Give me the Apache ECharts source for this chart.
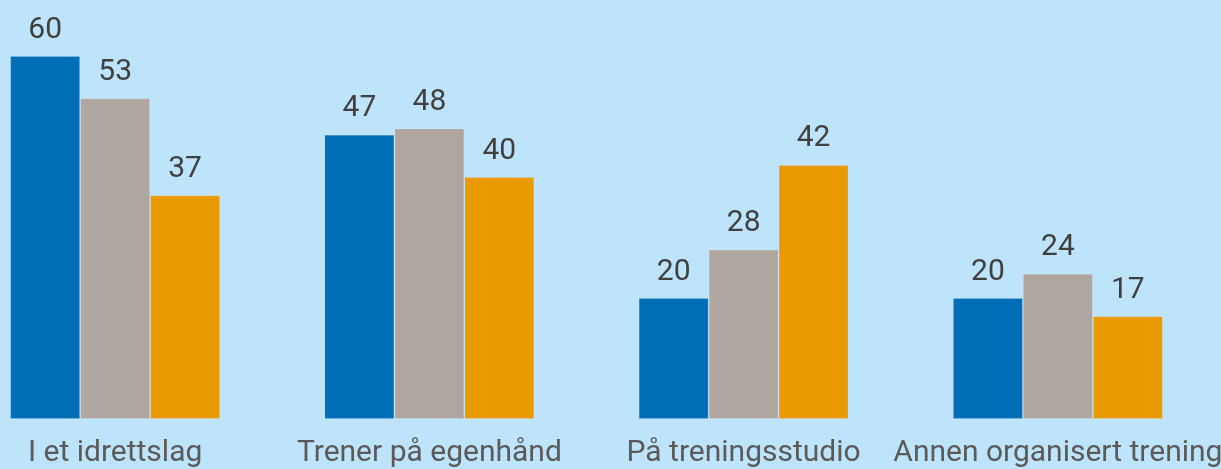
<!DOCTYPE html>
<html>
<head>
<meta charset="utf-8">
<script src="https://cdn.jsdelivr.net/npm/echarts@6/dist/echarts.min.js"></script>
<style>
  html, body { margin: 0; padding: 0; background: #bee4fc; }
  #chart { width: 1221px; height: 469px; }
</style>
</head>
<body>
<div id="chart"></div>
<script>
// Where people train, share per group (%)
const categories = ['I et idrettslag', 'Trener på egenhånd', 'På treningsstudio', 'Annen organisert trening'];
const seriesA = [60, 47, 20, 20];
const seriesB = [53, 48, 28, 24];
const seriesC = [37, 40, 42, 17];

const colors = ['#006eb6', '#aea69f', '#e89a00'];
const valueSets = [seriesA, seriesB, seriesC];

const chart = echarts.init(document.getElementById('chart'), null, { renderer: 'canvas' });

chart.setOption({
  backgroundColor: '#bee4fc',
  animation: false,
  grid: { left: -42, right: 6, top: 56, bottom: 50, outerBoundsMode: 'none', containLabel: false },
  xAxis: {
    type: 'category',
    data: categories,
    axisLine: { show: false },
    axisTick: { show: false },
    axisLabel: {
      interval: 0,
      color: '#5a5a5a',
      fontFamily: 'Roboto',
      fontSize: 30,
      margin: 19
    }
  },
  yAxis: {
    type: 'value',
    min: 0,
    max: 60,
    show: false,
    splitLine: { show: false }
  },
  series: valueSets.map((vals, i) => ({
    type: 'bar',
    data: vals,
    barGap: '0%',
    barCategoryGap: '33.2%',
    itemStyle: {
      color: colors[i],
      borderColor: 'rgba(255,255,255,0.15)',
      borderWidth: 1
    },
    label: {
      show: true,
      position: 'top',
      distance: 11,
      color: '#404040',
      fontFamily: 'Roboto',
      fontSize: 30
    }
  }))
});
</script>
</body>
</html>
